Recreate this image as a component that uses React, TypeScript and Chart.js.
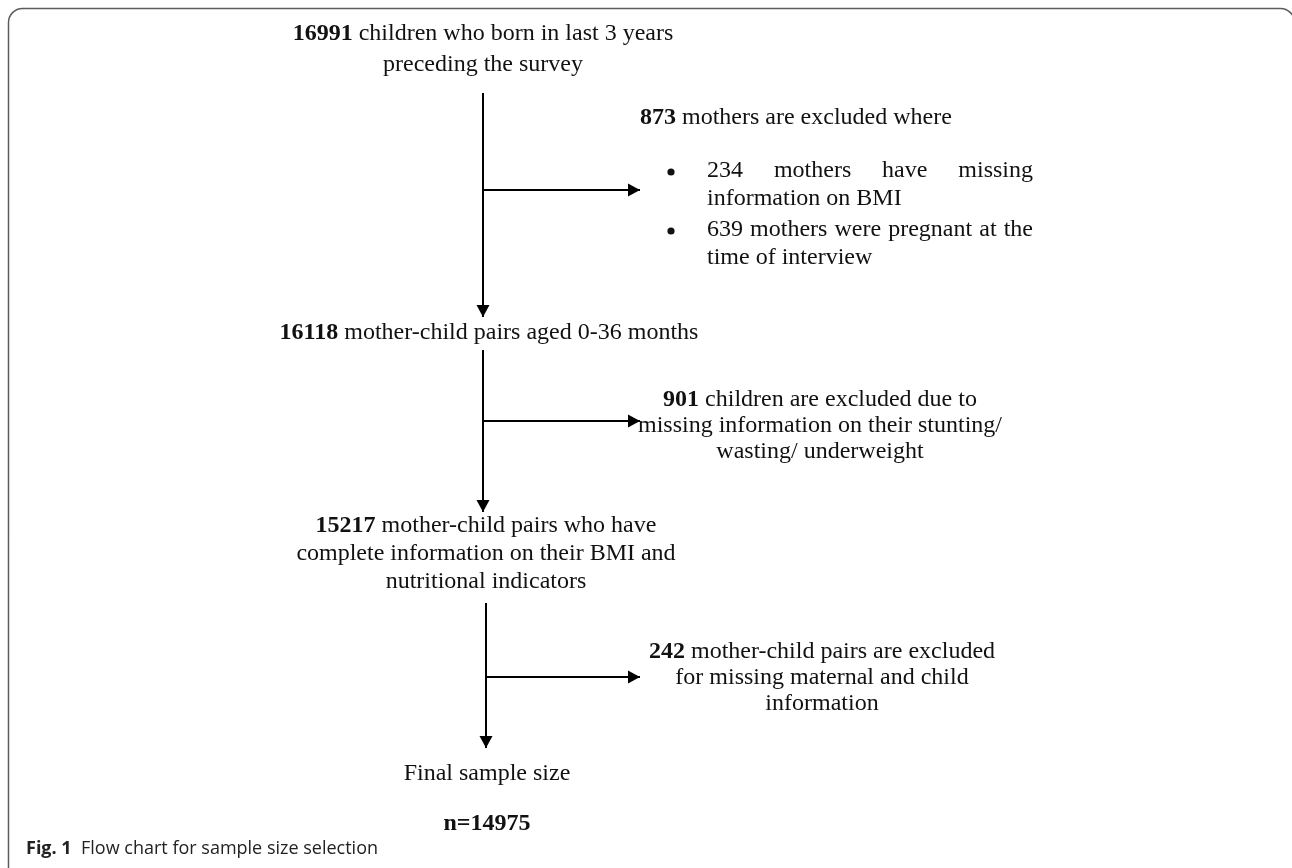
import React, { useEffect, useRef } from "react";
import { Chart, registerables } from "chart.js";
Chart.register(...registerables);

const W = 1292;
const H = 868;

// ---------- content (data) ----------
const stepCounts = ["16991", "16118", "15217"];
const stepLines = [
  [" children who born in last 3 years", "preceding the survey"],
  [" mother-child pairs aged 0-36 months"],
  [" mother-child pairs who have", "complete information on their BMI and", "nutritional indicators"],
];
const exclusionCounts = ["873", "901", "242"];
const exclusionLines = [
  [" mothers are excluded where"],
  [" children are excluded due to", "missing information on their stunting/", "wasting/ underweight"],
  [" mother-child pairs are excluded", "for missing maternal and child", "information"],
];
const exclusionReasons = [
  ["234 mothers have missing", "information on BMI"],
  ["639 mothers were pregnant at the", "time of interview"],
];
const finalLabel = "Final sample size";
const finalPrefix = "n=";
const finalCount = "14975";
const captionLabel = "Fig. 1";
const captionText = "Flow chart for sample size selection";

// ---------- layout (positions / styles) ----------
const stepLayout = [
  { x: 483, ys: [34, 65] },
  { x: 489, ys: [333] },
  { x: 486, ys: [526, 554, 582] },
];
const exclusionLayout = [
  { x: 640, ys: [118], align: "left" },
  { x: 820, ys: [400, 426, 452], align: "center" },
  { x: 822, ys: [652, 678, 704], align: "center" },
];
const reasonLayout = { bulletX: 671, textX: 707, right: 1033, ys: [[171, 199], [230, 258]] };
const spineLayout = [
  { x: 483, y0: 93, y1: 317 },
  { x: 483, y0: 350, y1: 512 },
  { x: 486, y0: 603, y1: 748 },
];
const branchLayout = [
  { spine: 0, y: 190, x1: 640 },
  { spine: 1, y: 421, x1: 640 },
  { spine: 2, y: 677, x1: 640 },
];
const finalLayout = { x: 487, labelY: 774, countY: 824 };
const captionLayout = { x: 26, y: 849 };

const SERIF = "'Liberation Serif', 'Times New Roman', serif";
const SANS = "'Open Sans', 'Noto Sans', sans-serif";
const FS = 24;
const INK = "#111";

type Run = { t: string; bold?: boolean };

function fontFor(bold?: boolean, size = FS, family = SERIF) {
  return `${bold ? "bold " : ""}${size}px ${family}`;
}

function drawRuns(ctx: CanvasRenderingContext2D, runs: Run[], x: number, y: number, align: string, size = FS, family = SERIF) {
  let total = 0;
  const widths = runs.map((r) => {
    ctx.font = fontFor(r.bold, size, family);
    const w = ctx.measureText(r.t).width;
    total += w;
    return w;
  });
  let cx = align === "center" ? x - total / 2 : x;
  runs.forEach((r, i) => {
    ctx.font = fontFor(r.bold, size, family);
    ctx.fillText(r.t, cx, y);
    cx += widths[i];
  });
}

function drawJustified(ctx: CanvasRenderingContext2D, text: string, x0: number, x1: number, y: number) {
  ctx.font = fontFor(false);
  const words = text.split(" ");
  const ws = words.map((w) => ctx.measureText(w).width);
  const sum = ws.reduce((a, b) => a + b, 0);
  const gap = (x1 - x0 - sum) / (words.length - 1);
  let cx = x0;
  words.forEach((w, i) => {
    ctx.fillText(w, cx, y);
    cx += ws[i] + gap;
  });
}

const flowPlugin = {
  id: "flowText",
  beforeDraw(chart: any) {
    const ctx = chart.ctx as CanvasRenderingContext2D;
    ctx.save();
    ctx.fillStyle = "#fff";
    ctx.fillRect(0, 0, chart.width, chart.height);
    // figure frame
    ctx.strokeStyle = "#5c5c5c";
    ctx.lineWidth = 1.5;
    ctx.beginPath();
    (ctx as any).roundRect(8.5, 8.5, 1286, H + 40, 14);
    ctx.stroke();
    ctx.restore();
  },
  afterDatasetsDraw(chart: any) {
    const ctx = chart.ctx as CanvasRenderingContext2D;
    const xs = chart.scales.x;
    const ys = chart.scales.y;
    ctx.save();
    // arrowheads at the end of every connector
    ctx.fillStyle = "#000";
    chart.data.datasets.forEach((ds: any) => {
      const pts = ds.data;
      const a = pts[pts.length - 2];
      const b = pts[pts.length - 1];
      const ax = xs.getPixelForValue(a.x), ay = ys.getPixelForValue(a.y);
      const bx = xs.getPixelForValue(b.x), by = ys.getPixelForValue(b.y);
      const ang = Math.atan2(by - ay, bx - ax);
      const L = 12, hw = 6.5;
      ctx.beginPath();
      ctx.moveTo(bx, by);
      ctx.lineTo(bx - L * Math.cos(ang) + hw * Math.sin(ang), by - L * Math.sin(ang) - hw * Math.cos(ang));
      ctx.lineTo(bx - L * Math.cos(ang) - hw * Math.sin(ang), by - L * Math.sin(ang) + hw * Math.cos(ang));
      ctx.closePath();
      ctx.fill();
    });

    ctx.fillStyle = INK;
    ctx.textBaseline = "middle";
    // main steps
    stepLines.forEach((lines, i) => {
      const lay = stepLayout[i];
      lines.forEach((line, j) => {
        const runs: Run[] = j === 0 ? [{ t: stepCounts[i], bold: true }, { t: line }] : [{ t: line }];
        drawRuns(ctx, runs, xs.getPixelForValue(lay.x), ys.getPixelForValue(lay.ys[j]), "center");
      });
    });
    // exclusions
    exclusionLines.forEach((lines, i) => {
      const lay = exclusionLayout[i];
      lines.forEach((line, j) => {
        const runs: Run[] = j === 0 ? [{ t: exclusionCounts[i], bold: true }, { t: line }] : [{ t: line }];
        drawRuns(ctx, runs, xs.getPixelForValue(lay.x), ys.getPixelForValue(lay.ys[j]), lay.align);
      });
    });
    // bullet reasons
    exclusionReasons.forEach((lines, i) => {
      const yy = reasonLayout.ys[i];
      ctx.beginPath();
      ctx.arc(xs.getPixelForValue(reasonLayout.bulletX), ys.getPixelForValue(yy[0]) + 1, 3.6, 0, Math.PI * 2);
      ctx.fill();
      lines.forEach((line, j) => {
        const y = ys.getPixelForValue(yy[j]);
        if (j < lines.length - 1) {
          drawJustified(ctx, line, xs.getPixelForValue(reasonLayout.textX), xs.getPixelForValue(reasonLayout.right), y);
        } else {
          drawRuns(ctx, [{ t: line }], xs.getPixelForValue(reasonLayout.textX), y, "left");
        }
      });
    });
    // final
    drawRuns(ctx, [{ t: finalLabel }], xs.getPixelForValue(finalLayout.x), ys.getPixelForValue(finalLayout.labelY), "center");
    drawRuns(ctx, [{ t: finalPrefix + finalCount, bold: true }], xs.getPixelForValue(finalLayout.x), ys.getPixelForValue(finalLayout.countY), "center");
    // caption
    ctx.fillStyle = "#222";
    drawRuns(
      ctx,
      [{ t: captionLabel, bold: true }, { t: "  " + captionText }],
      xs.getPixelForValue(captionLayout.x),
      ys.getPixelForValue(captionLayout.y),
      "left",
      18,
      SANS
    );
    ctx.restore();
  },
};

function buildDatasets() {
  const line = (pts: { x: number; y: number }[]) => ({
    data: pts,
    showLine: true,
    borderColor: "#000",
    backgroundColor: "#000",
    borderWidth: 2,
    pointRadius: 0,
    fill: false,
    tension: 0,
  });
  const sets: any[] = [];
  spineLayout.forEach((s) => sets.push(line([{ x: s.x, y: s.y0 }, { x: s.x, y: s.y1 - 6 }, { x: s.x, y: s.y1 }])));
  branchLayout.forEach((b) => {
    const sx = spineLayout[b.spine].x;
    sets.push(line([{ x: sx, y: b.y }, { x: b.x1 - 6, y: b.y }, { x: b.x1, y: b.y }]));
  });
  return sets;
}

export default function App() {
  const ref = useRef<HTMLCanvasElement | null>(null);
  useEffect(() => {
    if (!ref.current) return;
    const chart = new Chart(ref.current, {
      type: "scatter",
      data: { datasets: buildDatasets() },
      options: {
        animation: false,
        responsive: false,
        maintainAspectRatio: false,
        events: [],
        layout: { padding: 0 },
        plugins: { legend: { display: false }, tooltip: { enabled: false } },
        scales: {
          x: { type: "linear", min: 0, max: W, display: false },
          y: { type: "linear", min: 0, max: H, reverse: true, display: false },
        },
      },
      plugins: [flowPlugin],
    } as any);
    return () => chart.destroy();
  }, []);
  return (
    <canvas
      ref={ref}
      width={W}
      height={H}
      style={{ position: "fixed", left: 0, top: 0, width: W, height: H, display: "block" }}
    />
  );
}
